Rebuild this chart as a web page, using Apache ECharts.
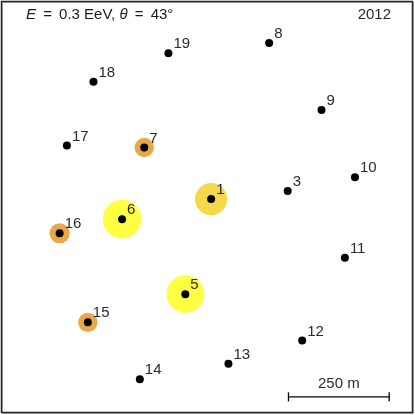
<!DOCTYPE html>
<html>
<head>
<meta charset="utf-8">
<script src="https://cdn.jsdelivr.net/npm/echarts@6/dist/echarts.min.js"></script>
<style>
    html, body { margin: 0; padding: 0; background: #fff; }
    #chart { width: 415px; height: 415px; }
</style>
</head>
<body>
<div id="chart"></div>
<script>
// station ids and positions on the ground (metres, east / north)
const stationIds = ["1", "3", "5", "6", "7", "8", "9", "10", "11", "12", "13", "14", "15", "16", "17", "18", "19"];
const stationX = [524, 714, 460, 303, 358, 668, 798, 881, 856, 750, 567, 347, 218, 148, 166, 232, 418];
const stationY = [536, 556, 300, 486, 664, 923, 757, 590, 390, 185, 127, 89, 230, 451, 669, 827, 898];

// triggered stations: id, footprint radius (m), signal level
const hitIds = ["1", "5", "6", "7", "15", "16"];
const hitRadius = [40, 47, 48, 24, 24, 25];
const hitLevel = ["mid", "high", "high", "low", "low", "low"];

const energyEeV = 0.3;
const zenithDeg = 43;
const year = "2012";
const scaleBarMetres = 250;

const levelColor = { high: "#ffff44", mid: "#f6d94b", low: "#eaa64b" };
const font = "Liberation Sans";
const fontSize = 15;
const mapSize = 1030; // metres across the frame

let myChart = echarts.init(document.getElementById("chart"));
const pxPerM = 415 / mapSize;

let hitData = hitIds.map((id, i) => {
    let k = stationIds.indexOf(id);
    return {
        value: [stationX[k], stationY[k]],
        symbolSize: hitRadius[i] * 2 * pxPerM,
        itemStyle: { color: levelColor[hitLevel[i]], opacity: 1 }
    };
});

let dotData = stationIds.map((id, i) => ({ name: id, value: [stationX[i], stationY[i]] }));

let option = {
    animation: false,
    grid: { left: 0, right: 0, top: 0, bottom: 0 },
    xAxis: { type: "value", min: 0, max: mapSize, show: false },
    yAxis: { type: "value", min: 0, max: mapSize, show: false },
    series: [
        {
            type: "scatter",
            symbol: "circle",
            data: hitData,
            z: 2,
            silent: true
        },
        {
            type: "scatter",
            symbol: "circle",
            symbolSize: 8,
            itemStyle: { color: "#000", opacity: 1 },
            data: dotData,
            z: 3,
            label: {
                show: true,
                position: "right",
                distance: 1,
                offset: [0, -9],
                formatter: p => p.name,
                color: "#2a2a2a",
                fontFamily: font,
                fontSize: fontSize
            }
        },
        {
            // scale bar
            type: "line",
            symbol: "none",
            silent: true,
            lineStyle: { color: "#000", width: 1.3 },
            data: [[716, 45], [716 + scaleBarMetres, 45]],
            z: 4
        }
    ]
};
myChart.setOption(option);

let a = myChart.convertToPixel({ gridIndex: 0 }, [716, 45]);
let b = myChart.convertToPixel({ gridIndex: 0 }, [716 + scaleBarMetres, 45]);

myChart.setOption({
    graphic: [
        { type: "line", shape: { x1: a[0], y1: a[1] - 4.5, x2: a[0], y2: a[1] + 4.5 }, style: { stroke: "#000", lineWidth: 1.3 } },
        { type: "line", shape: { x1: b[0], y1: b[1] - 4.5, x2: b[0], y2: b[1] + 4.5 }, style: { stroke: "#000", lineWidth: 1.3 } },
        {
            type: "text",
            x: (a[0] + b[0]) / 2,
            y: a[1] - 13,
            style: { text: scaleBarMetres + " m", fill: "#2a2a2a", font: fontSize + "px " + font, align: "center", verticalAlign: "middle" }
        },
        {
            type: "text",
            x: 26,
            y: 15,
            style: {
                text: "{i|E}{eq| = }" + energyEeV + " EeV, {i|θ}{eq| = }" + zenithDeg + "°",
                fill: "#1a1a1a",
                font: fontSize + "px " + font,
                verticalAlign: "middle",
                rich: {
                    i: { fontStyle: "italic", fontFamily: font, fontSize: fontSize, fill: "#1a1a1a" },
                    eq: { fontFamily: font, fontSize: fontSize, fill: "#1a1a1a", padding: [0, 3, 0, 3] }
                }
            }
        },
        {
            type: "text",
            x: 391,
            y: 15,
            style: { text: year, fill: "#2a2a2a", font: fontSize + "px " + font, align: "right", verticalAlign: "middle" }
        },
        { type: "rect", shape: { x: 2.5, y: 2.5, width: 411, height: 411 }, style: { fill: "none", stroke: "#bbb", lineWidth: 1 }, z: 10 },
        { type: "rect", shape: { x: 1.5, y: 1.5, width: 411, height: 411 }, style: { fill: "none", stroke: "#222", lineWidth: 1.5 }, z: 11 }
    ]
});
</script>
</body>
</html>
